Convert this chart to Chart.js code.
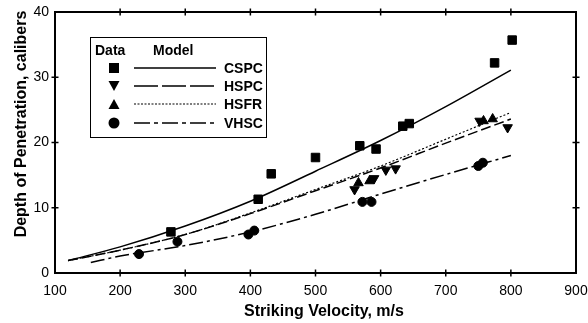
<!DOCTYPE html>
<html>
<head>
<meta charset="utf-8">
<script src="https://cdn.jsdelivr.net/npm/chart.js@4/dist/chart.umd.min.js"></script>
<style>
html, body { margin: 0; padding: 0; background: #fff; }
</style>
</head>
<body>
<canvas id="chartCanvas" width="588" height="323"></canvas>
<script>
// tick labels
const xTicks = [100, 200, 300, 400, 500, 600, 700, 800, 900];
const yTicks = [0, 10, 20, 30, 40];

// measured data (striking velocity m/s, depth in calibers)
const cspcV = [278, 412, 432, 500, 568, 593, 634, 644, 775, 802];
const cspcD = [6.3, 11.3, 15.2, 17.7, 19.5, 19.0, 22.5, 22.9, 32.2, 35.7];
const hspcV = [560, 590, 608, 623, 752, 795];
const hspcD = [12.8, 14.5, 15.8, 16.0, 23.3, 22.3];
const hsfrV = [566, 583, 758, 772];
const hsfrD = [13.8, 14.1, 23.3, 23.6];
const vhscV = [229, 288, 397, 406, 572, 586, 750, 757];
const vhscD = [2.9, 4.8, 5.9, 6.5, 10.9, 10.9, 16.4, 16.9];

// model curves
const modelV = [120, 200, 300, 400, 500, 600, 700, 800];
const cspcModel = [1.9, 4.0, 7.2, 11.0, 15.6, 20.3, 25.5, 31.1];
const hspcModel = [1.9, 3.5, 5.9, 9.1, 12.6, 16.1, 19.9, 23.6];
const hsfrModel = [1.9, 3.5, 5.9, 9.2, 12.8, 16.4, 20.5, 24.6];
const vhscModelV = [155, 200, 300, 400, 500, 600, 700, 800];
const vhscModel = [1.6, 2.6, 4.2, 6.3, 9.0, 12.1, 15.1, 18.0];

const toXY = (xs, ys) => xs.map((x, i) => ({ x: x, y: ys[i] }));

const FONT = "'Liberation Sans', Arial, sans-serif";

const xMin = xTicks[0], xMax = xTicks[xTicks.length - 1];
const yMin = yTicks[0], yMax = yTicks[yTicks.length - 1];

function curve(label, xs, ys, dash, width) {
    return {
        type: 'line',
        label: label,
        data: toXY(xs, ys),
        borderColor: '#000',
        borderWidth: width,
        borderDash: dash,
        pointRadius: 0,
        fill: false,
        cubicInterpolationMode: 'monotone'
    };
}

function marks(label, xs, ys, style, radius, rotation) {
    return {
        type: 'scatter',
        label: label,
        data: toXY(xs, ys),
        pointStyle: style,
        pointRadius: radius,
        rotation: rotation || 0,
        backgroundColor: '#000',
        borderColor: '#000',
        borderWidth: 1
    };
}

// plot frame drawn through the axis limits
const frameSet = {
    type: 'line',
    label: 'frame',
    data: [
        { x: xMin, y: yMin }, { x: xMax, y: yMin },
        { x: xMax, y: yMax }, { x: xMin, y: yMax }, { x: xMin, y: yMin }
    ],
    borderColor: '#000',
    borderWidth: 2,
    pointRadius: 0,
    fill: false,
    tension: 0,
    clip: false
};

// short tick marks on all four sides of the frame
function tickSet(points, rotation) {
    return {
        type: 'scatter',
        label: 'ticks',
        data: points,
        pointStyle: 'line',
        pointRadius: 3.5,
        rotation: rotation,
        borderColor: '#000',
        borderWidth: 1.5,
        clip: false
    };
}
const innerX = xTicks.slice(1, -1);
const innerY = yTicks.slice(1, -1);

function axis(pos, min, max, ticks, pad) {
    const horizontal = pos === 'bottom';
    return {
        type: 'linear',
        position: pos,
        min: min,
        max: max,
        afterBuildTicks: s => { s.ticks = ticks.map(v => ({ value: v })); },
        afterFit: s => {
            if (horizontal) {
                s.height = 50;
                s.paddingLeft = 12;
                s.paddingRight = 12;
            } else {
                s.width = 55;
                s.paddingTop = 8;
                s.paddingBottom = 8;
            }
        },
        grid: { display: false, tickLength: 0 },
        border: { display: true, color: '#000', width: 2 },
        ticks: {
            color: '#000',
            font: { family: FONT, size: 14 },
            padding: pad,
            maxRotation: 0
        }
    };
}

// axis titles and the Data/Model legend box
const legendPlugin = {
    id: 'dataModelLegend',
    afterDraw(chart) {
        const c = chart.ctx;
        c.save();
        c.fillStyle = '#000';
        c.strokeStyle = '#000';
        c.setLineDash([]);

        c.font = 'bold 16px ' + FONT;
        c.textAlign = 'center';
        c.textBaseline = 'middle';
        c.fillText('Striking Velocity, m/s', 324, 312);
        c.save();
        c.translate(22, 124);
        c.rotate(-Math.PI / 2);
        c.fillText('Depth of Penetration, calibers', 0, 0);
        c.restore();

        c.lineWidth = 1;
        c.strokeRect(90.5, 37.5, 176, 100);
        c.font = 'bold 14px ' + FONT;
        c.textAlign = 'left';
        c.fillText('Data', 95, 51);
        c.fillText('Model', 153, 51);
        const rows = [
            { y: 68, name: 'CSPC', mark: 'rect', dash: [], w: 1.5 },
            { y: 86, name: 'HSPC', mark: 'down', dash: [24, 4], w: 1.5 },
            { y: 104, name: 'HSFR', mark: 'up', dash: [2, 1.5], w: 1.2 },
            { y: 123, name: 'VHSC', mark: 'circle', dash: [16, 4, 4, 4], w: 1.5 }
        ];
        rows.forEach(r => {
            const mx = 114;
            c.beginPath();
            if (r.mark === 'rect') {
                c.rect(mx - 5, r.y - 5, 10, 10);
            } else if (r.mark === 'down') {
                c.moveTo(mx - 5.5, r.y - 5); c.lineTo(mx + 5.5, r.y - 5); c.lineTo(mx, r.y + 5);
            } else if (r.mark === 'up') {
                c.moveTo(mx - 5.5, r.y + 5); c.lineTo(mx + 5.5, r.y + 5); c.lineTo(mx, r.y - 5);
            } else {
                c.arc(mx, r.y, 5.5, 0, Math.PI * 2);
            }
            c.closePath();
            c.fill();
            c.setLineDash(r.dash);
            c.lineWidth = r.w;
            c.beginPath();
            c.moveTo(134, r.y); c.lineTo(216, r.y);
            c.stroke();
            c.setLineDash([]);
            c.fillText(r.name, 224, r.y + 1);
        });
        c.restore();
    }
};

new Chart(document.getElementById('chartCanvas').getContext('2d'), {
    data: {
        datasets: [
            frameSet,
            tickSet(innerX.map(v => ({ x: v, y: yMin })), 90),
            tickSet(innerX.map(v => ({ x: v, y: yMax })), 90),
            tickSet(innerY.map(v => ({ x: xMin, y: v })), 0),
            tickSet(innerY.map(v => ({ x: xMax, y: v })), 0),
            curve('CSPC model', modelV, cspcModel, [], 1.5),
            curve('HSPC model', modelV, hspcModel, [10, 4], 1.5),
            curve('HSFR model', modelV, hsfrModel, [2, 2], 1.2),
            curve('VHSC model', vhscModelV, vhscModel, [14, 4, 3, 4], 1.5),
            marks('CSPC', cspcV, cspcD, 'rect', 6),
            marks('HSPC', hspcV, hspcD, 'triangle', 5.5, 180),
            marks('HSFR', hsfrV, hsfrD, 'triangle', 5.5),
            marks('VHSC', vhscV, vhscD, 'circle', 4.5)
        ]
    },
    options: {
        responsive: false,
        animation: false,
        layout: { padding: { top: 12, right: 0, left: 0, bottom: 0 } },
        plugins: {
            legend: { display: false },
            tooltip: { enabled: false }
        },
        scales: {
            x: axis('bottom', xMin, xMax, xTicks, 10),
            y: axis('left', yMin, yMax, yTicks, 6)
        }
    },
    plugins: [legendPlugin]
});
</script>
</body>
</html>
